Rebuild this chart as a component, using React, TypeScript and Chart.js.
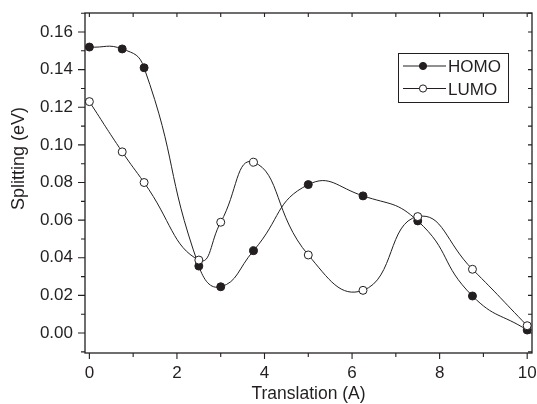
import React, { useEffect, useRef } from "react";
import { Chart, registerables } from "chart.js";

Chart.register(...registerables);

const translation = [0, 0.75, 1.25, 2.5, 3.0, 3.75, 5.0, 6.25, 7.5, 8.75, 10];
const homo = [0.152, 0.151, 0.141, 0.0356, 0.0246, 0.0438, 0.0789, 0.0729, 0.0596, 0.0197, 0.0016];
const lumo = [0.123, 0.0963, 0.08, 0.0388, 0.0589, 0.0908, 0.0415, 0.0227, 0.0619, 0.0339, 0.0039];

const xTicks = [0, 2, 4, 6, 8, 10];
const xTickLabels = ["0", "2", "4", "6", "8", "10"];
const xMinorTicks = [1, 3, 5, 7, 9];
const xTopTicks = [0, 1, 2, 3, 4, 5, 6, 7, 8, 9, 10];
const yTicks = [0, 0.02, 0.04, 0.06, 0.08, 0.1, 0.12, 0.14, 0.16];
const yTickLabels = ["0.00", "0.02", "0.04", "0.06", "0.08", "0.10", "0.12", "0.14", "0.16"];
const yMinorTicks = [-0.01, 0.01, 0.03, 0.05, 0.07, 0.09, 0.11, 0.13, 0.15, 0.17];
const yRightTicks = [-0.01, 0, 0.01, 0.02, 0.03, 0.04, 0.05, 0.06, 0.07, 0.08, 0.09, 0.1, 0.11, 0.12, 0.13, 0.14, 0.15, 0.16, 0.17];

const seriesNames = ["HOMO", "LUMO"];
const xTitle = "Translation (A)";
const yTitle = "Splitting (eV)";

const INK = "#231f20";
const FONT = "'Liberation Sans', Arial, Helvetica, sans-serif";

const framePlugin = {
  id: "frame",
  afterDraw(chart: any) {
    const ctx = chart.ctx as CanvasRenderingContext2D;
    const { left, right, top, bottom } = chart.chartArea;
    const xs = chart.scales.x;
    const ys = chart.scales.y;
    ctx.save();
    ctx.strokeStyle = INK;
    ctx.lineWidth = 1.3;
    ctx.strokeRect(left, top, right - left, bottom - top);
    ctx.lineWidth = 1.1;
    ctx.beginPath();
    xTicks.forEach((v) => {
      const px = xs.getPixelForValue(v);
      ctx.moveTo(px, bottom);
      ctx.lineTo(px, bottom + 6);
    });
    xMinorTicks.forEach((v) => {
      const px = xs.getPixelForValue(v);
      ctx.moveTo(px, bottom);
      ctx.lineTo(px, bottom + 4);
    });
    xTopTicks.forEach((v) => {
      const px = xs.getPixelForValue(v);
      ctx.moveTo(px, top);
      ctx.lineTo(px, top + 4);
    });
    yTicks.forEach((v) => {
      const py = ys.getPixelForValue(v);
      ctx.moveTo(left, py);
      ctx.lineTo(left - 7, py);
    });
    yMinorTicks.forEach((v) => {
      const py = ys.getPixelForValue(v);
      ctx.moveTo(left, py);
      ctx.lineTo(left - 4, py);
    });
    yRightTicks.forEach((v) => {
      const py = ys.getPixelForValue(v);
      ctx.moveTo(right, py);
      ctx.lineTo(right - 4, py);
    });
    ctx.stroke();

    ctx.fillStyle = INK;
    ctx.font = `17.5px ${FONT}`;
    ctx.textAlign = "center";
    ctx.textBaseline = "alphabetic";
    ctx.fillText(xTitle, (left + right) / 2, 399);
    ctx.save();
    ctx.translate(24, 158.5);
    ctx.rotate(-Math.PI / 2);
    ctx.font = `18px ${FONT}`;
    ctx.fillText(yTitle, 0, 0);
    ctx.restore();

    const bx = right - 134;
    const by = top + 40;
    const bw = 110;
    const bh = 49;
    ctx.fillStyle = "#ffffff";
    ctx.fillRect(bx, by, bw, bh);
    ctx.lineWidth = 1;
    ctx.strokeStyle = INK;
    ctx.strokeRect(bx + 0.5, by + 0.5, bw, bh);
    const rows = [
      { name: seriesNames[0], fill: INK, y: by + 13 },
      { name: seriesNames[1], fill: "#ffffff", y: by + 35.5 },
    ];
    rows.forEach((r) => {
      ctx.beginPath();
      ctx.lineWidth = 1;
      ctx.moveTo(bx + 5, r.y);
      ctx.lineTo(bx + 48, r.y);
      ctx.stroke();
      ctx.beginPath();
      ctx.arc(bx + 25, r.y, 3.6, 0, Math.PI * 2);
      ctx.fillStyle = r.fill;
      ctx.fill();
      ctx.stroke();
      ctx.fillStyle = INK;
      ctx.font = `17px ${FONT}`;
      ctx.textAlign = "left";
      ctx.textBaseline = "alphabetic";
      ctx.fillText(r.name, bx + 50, r.y + 6);
    });
    ctx.restore();
  },
};

export default function App() {
  const ref = useRef<HTMLCanvasElement>(null);
  useEffect(() => {
    document.body.style.margin = "0";
    const homoData = translation.map((x, i) => ({ x, y: homo[i] }));
    const lumoData = translation.map((x, i) => ({ x, y: lumo[i] }));
    const chart = new Chart(ref.current as HTMLCanvasElement, {
      type: "line",
      data: {
        datasets: [
          {
            label: seriesNames[0],
            data: homoData,
            borderColor: INK,
            borderWidth: 1,
            pointRadius: 4,
            pointBackgroundColor: INK,
            pointBorderColor: INK,
            pointBorderWidth: 1,
            tension: 0.5,
            fill: false,
            order: 1,
          },
          {
            label: seriesNames[1],
            data: lumoData,
            borderColor: INK,
            borderWidth: 1,
            pointRadius: 4,
            pointBackgroundColor: "#ffffff",
            pointBorderColor: INK,
            pointBorderWidth: 1,
            tension: 0.5,
            fill: false,
            order: 0,
          },
        ],
      },
      options: {
        animation: false,
        responsive: true,
        maintainAspectRatio: false,
        layout: { padding: { top: 13, right: 5, left: 0, bottom: 0 } },
        plugins: { legend: { display: false }, tooltip: { enabled: false } },
        scales: {
          x: {
            type: "linear",
            min: -0.1,
            max: 10.11,
            grid: { display: false, drawTicks: false },
            border: { display: false },
            afterBuildTicks: (s: any) => {
              s.ticks = xTicks.map((v) => ({ value: v }));
            },
            afterFit: (s: any) => {
              s.height = 51;
              s.paddingLeft = 0;
              s.paddingRight = 0;
            },
            ticks: {
              color: INK,
              font: { family: FONT, size: 17 },
              padding: 10,
              maxRotation: 0,
              autoSkip: false,
              callback: (v: any) => {
                const i = xTicks.indexOf(Number(v));
                return i >= 0 ? xTickLabels[i] : "";
              },
            },
          },
          y: {
            type: "linear",
            min: -0.0106,
            max: 0.1701,
            grid: { display: false, drawTicks: false },
            border: { display: false },
            afterBuildTicks: (s: any) => {
              s.ticks = yTicks.map((v) => ({ value: v }));
            },
            afterFit: (s: any) => {
              s.width = 85;
              s.paddingTop = 0;
              s.paddingBottom = 0;
            },
            ticks: {
              color: INK,
              font: { family: FONT, size: 17 },
              padding: 12,
              autoSkip: false,
              callback: (v: any) => {
                const i = yTicks.findIndex((t) => Math.abs(t - Number(v)) < 1e-9);
                return i >= 0 ? yTickLabels[i] : "";
              },
            },
          },
        },
      },
      plugins: [framePlugin],
    });
    return () => chart.destroy();
  }, []);
  return (
    <div style={{ width: 537, height: 404, position: "relative" }}>
      <canvas ref={ref} />
    </div>
  );
}
